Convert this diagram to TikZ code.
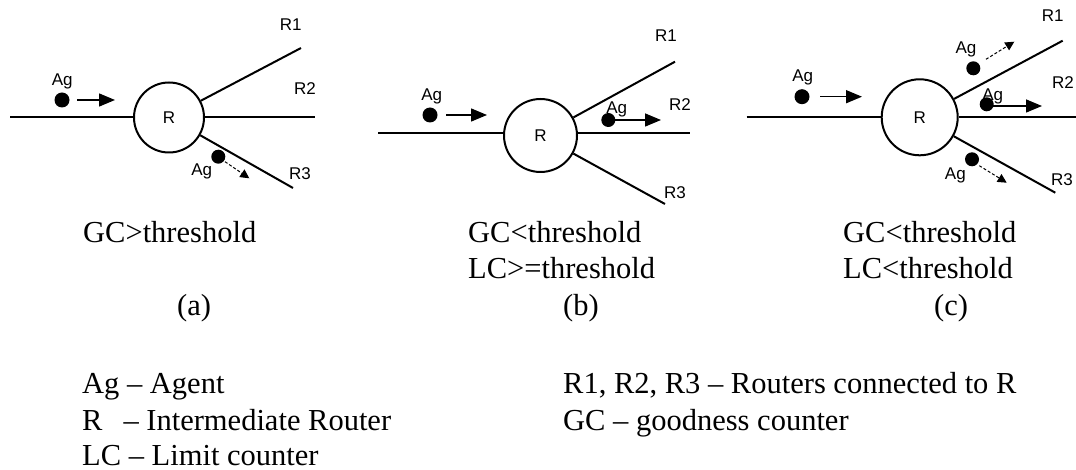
\documentclass[tikz,border=0pt]{standalone}
\usepackage{fontspec}
\setmainfont{Liberation Serif}
\newfontfamily\diagfont{Liberation Sans}
\usetikzlibrary{arrows.meta}
\begin{document}
\begin{tikzpicture}[x=1pt,y=-1pt,
  link/.style={line width=2pt},
  router/.style={circle,draw,line width=2pt,inner sep=0pt,font=\diagfont\fontsize{17}{17}\selectfont},
  agent/.style={circle,fill,inner sep=0pt,minimum size=15pt},
  smallagent/.style={circle,fill,inner sep=0pt,minimum size=14pt},
  tag/.style={inner sep=0pt,font=\diagfont\fontsize{17}{17}\selectfont},
  bigarrow/.style={line width=1.5pt,-{Triangle[length=16pt,width=13pt]}},
  smallarrow/.style={line width=1pt,densely dashed,-{Triangle[length=9pt,width=9pt]}},
  caption/.style={anchor=base west,inner sep=0pt,font=\fontsize{30.5}{36}\selectfont}]
\fill[white] (0,0) rectangle (1076,470);
\useasboundingbox (0,0) rectangle (1076,470);

% ---------------- panel (a) ----------------
\node[router,minimum size=70pt] (Ra) at (169,117.5) {R};
\coordinate (a-in) at (10,117.5);
\coordinate (a-r1) at (301,48);
\coordinate (a-r2) at (315,117.5);
\coordinate (a-r3) at (293,188);
\draw[link] (a-in) -- (Ra);
\draw[link] (Ra) -- (a-r1);
\draw[link] (Ra) -- (a-r2);
\draw[link] (Ra) -- (a-r3);
\node[tag] (a-R1) at (290.7,25) {R1};
\node[tag] (a-R2) at (305,88.3) {R2};
\node[tag] (a-R3) at (300,174) {R3};
\node[agent] (a-ag1) at (62,100) {};
\node[tag] (a-ag1t) at (62.3,81.7) {Ag};
\coordinate (a-ag1s) at (77.3,100);
\coordinate (a-ag1e) at (115,100);
\draw[bigarrow] (a-ag1s) -- (a-ag1e);
\node[smallagent] (a-ag2) at (218.3,156.7) {};
\node[tag] (a-ag2t) at (201.7,171.7) {Ag};
\coordinate (a-ag2s) at (225,161.7);
\coordinate (a-ag2e) at (249.3,178.3);
\draw[smallarrow] (a-ag2s) -- (a-ag2e);

% ---------------- panel (b) ----------------
\node[router,minimum size=73pt] (Rb) at (540.5,135.5) {R};
\coordinate (b-in) at (378,133.5);
\coordinate (b-r1) at (675,61.7);
\coordinate (b-r2) at (690,133.5);
\coordinate (b-r3) at (665,204);
\draw[link] (b-in) -- (Rb.west |- b-in);
\draw[link] (Rb) -- (b-r1);
\draw[link] (Rb.east |- b-r2) -- (b-r2);
\draw[link] (Rb) -- (b-r3);
\node[tag] (b-R1) at (666,36) {R1};
\node[tag] (b-R2) at (680,104.3) {R2};
\node[tag] (b-R3) at (675,192.7) {R3};
\node[agent] (b-ag1) at (430,115) {};
\node[tag] (b-ag1t) at (431.7,96.7) {Ag};
\coordinate (b-ag1s) at (446,115);
\coordinate (b-ag1e) at (487,115);
\draw[bigarrow] (b-ag1s) -- (b-ag1e);
\node[smallagent] (b-ag2) at (608.3,120) {};
\node[tag] (b-ag2t) at (616.7,109.3) {Ag};
\coordinate (b-ag2s) at (614,120);
\coordinate (b-ag2e) at (661,120);
\draw[bigarrow] (b-ag2s) -- (b-ag2e);

% ---------------- panel (c) ----------------
\node[router,minimum size=76pt] (Rc) at (919.7,117.3) {R};
\coordinate (c-in) at (746.7,117.3);
\coordinate (c-r1) at (1062.7,40.7);
\coordinate (c-r2) at (1080,117.3);
\coordinate (c-r3) at (1055.3,192.7);
\draw[link] (c-in) -- (Rc);
\draw[link] (Rc) -- (c-r1);
\draw[link] (Rc) -- (c-r2);
\draw[link] (Rc) -- (c-r3);
\node[tag] (c-R1) at (1052.7,16) {R1};
\node[tag] (c-R2) at (1063,82.7) {R2};
\node[tag] (c-R3) at (1062,180) {R3};
\node[agent] (c-ag1) at (802,96.7) {};
\node[tag] (c-ag1t) at (802.7,77.7) {Ag};
\coordinate (c-ag1s) at (820,96.7);
\coordinate (c-ag1e) at (862,96.7);
\draw[bigarrow] (c-ag1s) -- (c-ag1e);
\node[smallagent] (c-ag2) at (973.3,68.3) {};
\node[tag] (c-ag2t) at (966,49.3) {Ag};
\coordinate (c-ag2s) at (986,59.3);
\coordinate (c-ag2e) at (1014.3,41.7);
\draw[smallarrow] (c-ag2s) -- (c-ag2e);
\node[smallagent] (c-ag3) at (986.7,104.3) {};
\node[tag] (c-ag3t) at (992.7,96) {Ag};
\coordinate (c-ag3s) at (993,106);
\coordinate (c-ag3e) at (1042,106);
\draw[bigarrow] (c-ag3s) -- (c-ag3e);
\node[smallagent] (c-ag4) at (972,159.3) {};
\node[tag] (c-ag4t) at (955.3,175) {Ag};
\coordinate (c-ag4s) at (979.3,165.7);
\coordinate (c-ag4e) at (1006.7,182.7);
\draw[smallarrow] (c-ag4s) -- (c-ag4e);

% ---------------- captions ----------------
\node[caption] (capa1) at (83,243) {GC>threshold};
\node[caption] (capa) at (177,316) {(a)};
\node[caption] (capb1) at (468,243) {GC<threshold};
\node[caption] (capb2) at (468,279) {LC>=threshold};
\node[caption] (capb) at (563,316) {(b)};
\node[caption] (capc1) at (843,243) {GC<threshold};
\node[caption] (capc2) at (843,279) {LC<threshold};
\node[caption] (capc) at (934,316) {(c)};

% ---------------- legend ----------------
\node[caption] (leg1) at (82,393) {Ag – Agent};
\node[caption] (leg2) at (82,430) {R\hspace{21pt}– Intermediate Router};
\node[caption] (leg3) at (82,465) {LC – Limit counter};
\node[caption] (leg4) at (563,393) {R1, R2, R3 – Routers connected to R};
\node[caption] (leg5) at (563,430) {GC – goodness counter};
\end{tikzpicture}
\end{document}
